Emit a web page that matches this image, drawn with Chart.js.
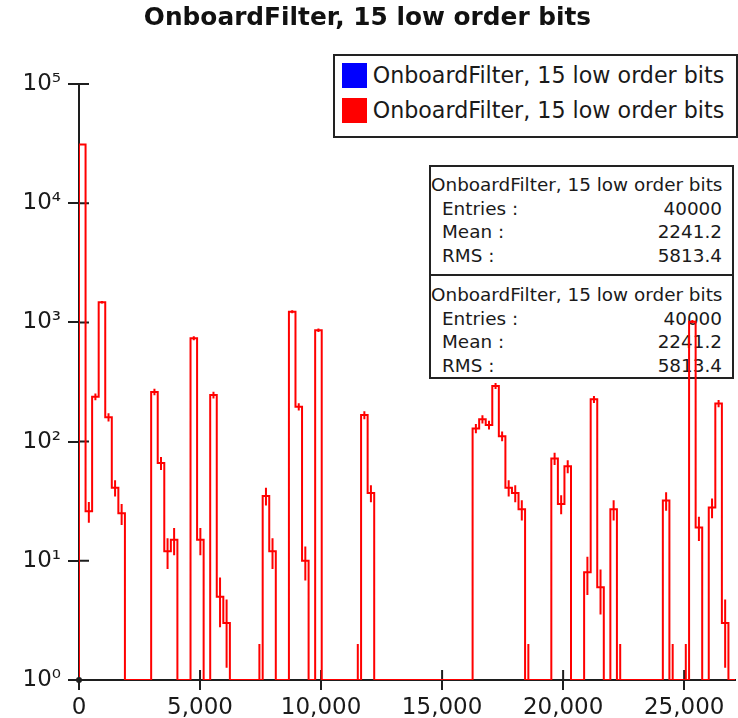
<!DOCTYPE html>
<html>
<head>
<meta charset="utf-8">
<title>OnboardFilter, 15 low order bits</title>
<script src="https://cdn.jsdelivr.net/npm/chart.js@4.4.1/dist/chart.umd.min.js"></script>
<style>
  html, body { margin: 0; padding: 0; background: #fff; }
  #wrap { position: relative; width: 738px; height: 718px; font-family: "DejaVu Sans", sans-serif; color: #1a1a1a; }
  #wrap canvas { position: absolute; left: 0; top: 0; }
  .box { position: absolute; border: 2px solid #222; box-sizing: border-box; }
  #legend .item { height: 35px; display: flex; align-items: center; font-size: 22.2px; white-space: nowrap; }
  #legend .sw { width: 25px; height: 25px; margin: 0 6px 0 6.7px; }
  .stats { font-size: 18.4px; line-height: 23.5px; white-space: nowrap; }
  .stats .row { display: flex; justify-content: space-between; padding: 0 10px 0 11px; }
  .stats .head { padding-left: 0; }
</style>
</head>
<body>
<div id="wrap">
  <div class="box" id="legend" style="left:333px; top:54px; width:405px; height:84px; padding-top:1.5px;"></div>
  <div class="box stats" id="stats1" style="left:429px; top:165px; width:305px; height:111px; padding-top:6.25px;"></div>
  <div class="box stats" id="stats2" style="left:429px; top:274px; width:305px; height:105px; padding-top:7.25px;"></div>
  <canvas id="grafica" width="738" height="718"></canvas>
</div>
<script>
// histogram: 100 bins from 0 to 27100, counts
const xMin = 0;
const xMax = 27100;
const nBins = 100;
const counts = [
  31100, 26, 238, 1475, 160, 41, 25, 0, 0, 0,
  0, 261, 66, 12, 15, 0, 0, 736, 15, 0,
  246, 5, 3, 0, 0, 0, 0, 1, 35, 12,
  0, 0, 1230, 196, 10, 0, 860, 0, 0, 0,
  0, 0, 1, 167, 37, 0, 0, 0, 0, 0,
  0, 0, 0, 0, 0, 0, 0, 0, 0, 0,
  129, 154, 138, 293, 111, 41, 37, 27, 1, 0,
  0, 0, 72, 30, 62, 0, 0, 8, 226, 6,
  0, 27, 1, 0, 0, 0, 0, 0, 0, 32,
  1, 0, 1, 1013, 19, 0, 28, 209, 3, 0
];

const xTickValues = [0, 5000, 10000, 15000, 20000, 25000];
const xTickLabels = ['0', '5,000', '10,000', '15,000', '20,000', '25,000'];
const yTickValues = [1, 10, 100, 1000, 10000, 100000];
const yTickLabels = ['10\u2070', '10\u00b9', '10\u00b2', '10\u00b3', '10\u2074', '10\u2075'];

const histTitle = 'OnboardFilter, 15 low order bits';
const seriesNames = ['OnboardFilter, 15 low order bits', 'OnboardFilter, 15 low order bits'];
const seriesColors = ['#0000ff', '#ff0000'];
const statLabels = ['Entries :', 'Mean :', 'RMS :'];
const statValues = ['40000', '2241.2', '5813.4'];

const axisColor = '#1e1e1e';
const yFloor = yTickValues[0];
const binW = (xMax - xMin) / nBins;

// outline of the histogram (step line through bin edges)
function outline() {
  const pts = [{ x: xMin, y: yFloor }];
  counts.forEach((n, i) => pts.push({ x: xMin + i * binW, y: Math.max(n, yFloor) }));
  pts.push({ x: xMax, y: Math.max(counts[nBins - 1], yFloor) });
  pts.push({ x: xMax, y: yFloor });
  return pts;
}

// sqrt(N) error bars at the bin centres, separated by gaps
function errorBars() {
  const pts = [];
  counts.forEach((n, i) => {
    if (n <= 0) return;
    const c = xMin + (i + 0.5) * binW;
    const e = Math.sqrt(n);
    pts.push({ x: c, y: Math.max(n - e, yFloor) }, { x: c, y: n + e }, { x: c, y: null });
  });
  return pts;
}

// legend and stats boxes
const legend = document.getElementById('legend');
seriesNames.forEach((name, i) => {
  const item = document.createElement('div');
  item.className = 'item';
  const sw = document.createElement('span');
  sw.className = 'sw';
  sw.style.background = seriesColors[i];
  item.appendChild(sw);
  item.appendChild(document.createTextNode(name));
  legend.appendChild(item);
});
['stats1', 'stats2'].forEach(id => {
  const box = document.getElementById(id);
  const head = document.createElement('div');
  head.className = 'row head';
  head.textContent = histTitle;
  box.appendChild(head);
  statLabels.forEach((lab, i) => {
    const row = document.createElement('div');
    row.className = 'row';
    row.innerHTML = '<span>' + lab + '</span><span>' + statValues[i] + '</span>';
    box.appendChild(row);
  });
});

// tick marks that poke into the plot, plus the dot at the origin
const innerTicks = {
  id: 'innerTicks',
  beforeDatasetsDraw(chart) {
    const { ctx, chartArea, scales: { x, y } } = chart;
    ctx.save();
    ctx.strokeStyle = axisColor;
    ctx.lineWidth = 2;
    ctx.beginPath();
    y.ticks.forEach((t, i) => {
      const py = y.getPixelForTick(i);
      ctx.moveTo(chartArea.left, py);
      ctx.lineTo(chartArea.left + 10, py);
    });
    x.ticks.forEach((t, i) => {
      const px = x.getPixelForTick(i);
      ctx.moveTo(px, chartArea.bottom);
      ctx.lineTo(px, chartArea.bottom - 10);
    });
    ctx.stroke();
    ctx.restore();
  },
  afterDraw(chart) {
    const { ctx, scales: { x, y } } = chart;
    ctx.save();
    ctx.fillStyle = axisColor;
    ctx.beginPath();
    ctx.arc(x.getPixelForValue(xMin), y.getPixelForValue(yFloor), 3, 0, 2 * Math.PI);
    ctx.fill();
    ctx.restore();
  }
};

Chart.defaults.font.family = "'DejaVu Sans', sans-serif";
Chart.defaults.color = '#1a1a1a';

const ctx = document.getElementById('grafica').getContext('2d');
const chart = new Chart(ctx, {
  type: 'line',
  data: {
    datasets: [
      {
        label: seriesNames[1],
        data: outline(),
        borderColor: seriesColors[1],
        borderWidth: 2,
        stepped: 'before',
        pointRadius: 0,
        fill: false,
        order: 0
      },
      {
        label: seriesNames[1] + ' errors',
        data: errorBars(),
        borderColor: seriesColors[1],
        borderWidth: 2,
        pointRadius: 0,
        spanGaps: false,
        fill: false,
        order: 1
      },
      {
        // identical blue histogram, fully covered by the red one
        label: seriesNames[0],
        data: outline(),
        borderColor: seriesColors[0],
        borderWidth: 2,
        stepped: 'before',
        pointRadius: 0,
        fill: false,
        hidden: true,
        order: 2
      }
    ]
  },
  options: {
    responsive: false,
    animation: false,
    layout: { padding: { left: 0, right: 3, top: 0, bottom: 0 } },
    plugins: {
      legend: { display: false },
      tooltip: { enabled: false },
      title: {
        display: true,
        text: histTitle,
        color: '#111',
        font: { size: 24.8, weight: 'bold' },
        padding: { top: 4, bottom: 50.2 }
      }
    },
    scales: {
      x: {
        type: 'linear',
        min: xMin,
        max: xMax,
        afterBuildTicks: s => { s.ticks = xTickValues.map(v => ({ value: v })); },
        afterFit: s => { s.height = 38; },
        ticks: {
          callback: (v, i) => xTickLabels[i],
          font: { size: 23 },
          color: '#1a1a1a',
          padding: 4,
          maxRotation: 0,
          autoSkip: false
        },
        grid: { drawOnChartArea: false, drawTicks: true, tickLength: 10, color: axisColor, lineWidth: 2 },
        border: { display: true, color: axisColor, width: 2 }
      },
      y: {
        type: 'logarithmic',
        min: yTickValues[0],
        max: yTickValues[yTickValues.length - 1],
        afterBuildTicks: s => { s.ticks = yTickValues.map(v => ({ value: v })); },
        afterFit: s => { s.width = 79; },
        ticks: {
          callback: (v, i) => yTickLabels[i],
          font: { size: 23 },
          color: '#1a1a1a',
          padding: 7,
          autoSkip: false
        },
        grid: { drawOnChartArea: false, drawTicks: true, tickLength: 11, color: axisColor, lineWidth: 2 },
        border: { display: true, color: axisColor, width: 2 }
      }
    }
  },
  plugins: [innerTicks]
});
</script>
</body>
</html>
